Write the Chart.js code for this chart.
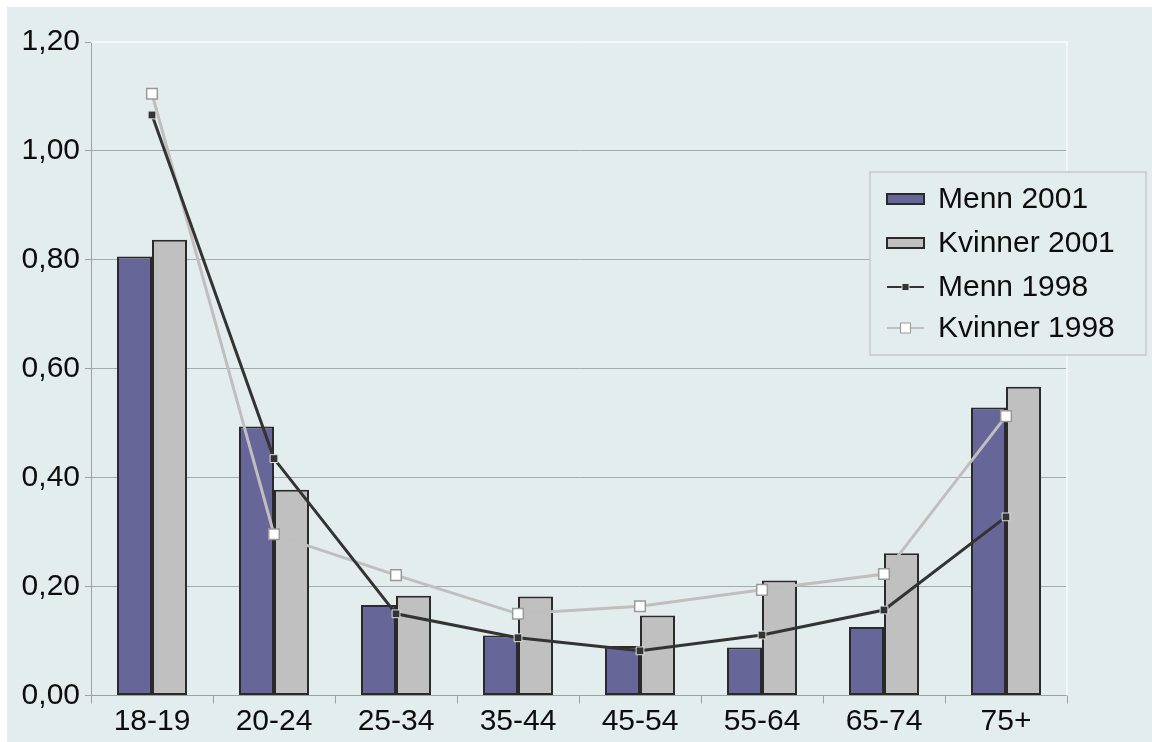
<!DOCTYPE html>
<html>
<head>
<meta charset="utf-8">
<script src="https://cdn.jsdelivr.net/npm/chart.js@4"></script>
<style>
  html, body { margin: 0; padding: 0; background: #ffffff; }
  #wrap { position: absolute; left: 7px; top: 7px; width: 1145px; height: 735px; background: #e4eded; }
</style>
</head>
<body>
<div id="wrap"><canvas id="chart"></canvas></div>
<script>
const categories = ["18-19", "20-24", "25-34", "35-44", "45-54", "55-64", "65-74", "75+"];
const menn2001 = [0.806, 0.494, 0.166, 0.110, 0.091, 0.088, 0.126, 0.529];
const kvinner2001 = [0.837, 0.378, 0.183, 0.182, 0.147, 0.211, 0.261, 0.567];
const menn1998 = [1.066, 0.435, 0.150, 0.106, 0.082, 0.111, 0.157, 0.328];
const kvinner1998 = [1.105, 0.296, 0.221, 0.150, 0.164, 0.194, 0.223, 0.513];
const yTicks = [0, 0.2, 0.4, 0.6, 0.8, 1.0, 1.2];

const FONT = "'Liberation Sans', Arial, sans-serif";

// white border on top and right of the plot area
const plotBorder = {
  id: "plotBorder",
  beforeDatasetsDraw(chart) {
    const { ctx, chartArea } = chart;
    ctx.save();
    ctx.strokeStyle = "#f6fafa";
    ctx.lineWidth = 1.5;
    ctx.beginPath();
    ctx.moveTo(chartArea.left, chartArea.top);
    ctx.lineTo(chartArea.right, chartArea.top);
    ctx.lineTo(chartArea.right, chartArea.bottom);
    ctx.stroke();
    ctx.restore();
  },
};

// boxed legend inside the plot, like the original
const boxLegend = {
  id: "boxLegend",
  afterDraw(chart) {
    const { ctx } = chart;
    const x = 863, y = 165, w = 276, h = 183;
    ctx.save();
    ctx.fillStyle = "#e4eded";
    ctx.fillRect(x, y, w, h);
    ctx.strokeStyle = "#c4caca";
    ctx.lineWidth = 1.5;
    ctx.strokeRect(x, y, w, h);
    ctx.font = "30px " + FONT;
    ctx.textBaseline = "middle";
    ctx.textAlign = "left";
    const rows = [192, 236, 280, 321];
    chart.data.datasets.forEach((ds, i) => {
      const cy = rows[i];
      if (ds.type === "bar") {
        ctx.fillStyle = ds.backgroundColor;
        ctx.fillRect(880, cy - 5, 37, 10);
        ctx.strokeStyle = "#2a2a2a";
        ctx.lineWidth = 2;
        ctx.strokeRect(880, cy - 5, 37, 10);
      } else {
        ctx.strokeStyle = ds.borderColor;
        ctx.lineWidth = 2;
        ctx.beginPath();
        ctx.moveTo(880, cy);
        ctx.lineTo(917, cy);
        ctx.stroke();
        const s = ds.label === "Menn 1998" ? 7 : 10;
        ctx.fillStyle = ds.pointBackgroundColor;
        ctx.fillRect(898.5 - s / 2, cy - s / 2, s, s);
        ctx.strokeStyle = ds.pointBorderColor;
        ctx.lineWidth = 1;
        ctx.strokeRect(898.5 - s / 2, cy - s / 2, s, s);
      }
      ctx.fillStyle = "#0d0d0d";
      ctx.fillText(ds.label, 931, cy + 1);
    });
    ctx.restore();
  },
};

new Chart(document.getElementById("chart"), {
  data: {
    labels: categories,
    datasets: [
      {
        type: "bar", label: "Menn 2001", data: menn2001, order: 3,
        backgroundColor: "#666699", borderColor: "#2a2a2a", borderWidth: 2,
        borderSkipped: false, categoryPercentage: 0.574, barPercentage: 1,
      },
      {
        type: "bar", label: "Kvinner 2001", data: kvinner2001, order: 3,
        backgroundColor: "#c0c0c0", borderColor: "#2a2a2a", borderWidth: 2,
        borderSkipped: false, categoryPercentage: 0.574, barPercentage: 1,
      },
      {
        type: "line", label: "Menn 1998", data: menn1998, order: 1,
        borderColor: "#333333", borderWidth: 3, tension: 0,
        pointStyle: "rect", pointRadius: 5.5, pointBackgroundColor: "#333333",
        pointBorderColor: "#dde3e3", pointBorderWidth: 1,
      },
      {
        type: "line", label: "Kvinner 1998", data: kvinner1998, order: 2,
        borderColor: "#bfbfbf", borderWidth: 3, tension: 0,
        pointStyle: "rect", pointRadius: 7.5, pointBackgroundColor: "#ffffff",
        pointBorderColor: "#999999", pointBorderWidth: 1.5,
      },
    ],
  },
  options: {
    responsive: true,
    maintainAspectRatio: false,
    animation: false,
    layout: { padding: { top: 35, right: 85, left: 0, bottom: 0 } },
    plugins: { legend: { display: false }, tooltip: { enabled: false } },
    scales: {
      x: {
        afterFit: (scale) => { scale.height = 46.5; },
        grid: { offset: true, drawOnChartArea: false, drawTicks: true, tickLength: 8, color: "#9aa2a2" },
        border: { color: "#9aa2a2", width: 1 },
        ticks: { color: "#0d0d0d", font: { family: FONT, size: 30 }, padding: 0 },
      },
      y: {
        min: 0,
        max: 1.2,
        afterFit: (scale) => { scale.width = 84; },
        afterBuildTicks: (scale) => { scale.ticks = yTicks.map((v) => ({ value: v })); },
        grid: {
          color: (ctx) => (ctx.tick && ctx.tick.value === 1.2 ? "#f6fafa" : "#a3abab"),
          tickColor: "#9aa2a2",
          tickLength: 6,
        },
        border: { color: "#9aa2a2", width: 1 },
        ticks: {
          color: "#0d0d0d",
          font: { family: FONT, size: 30 },
          padding: 5,
          callback: (v) => Number(v).toFixed(2).replace(".", ","),
        },
      },
    },
  },
  plugins: [plotBorder, boxLegend],
});
</script>
</body>
</html>
